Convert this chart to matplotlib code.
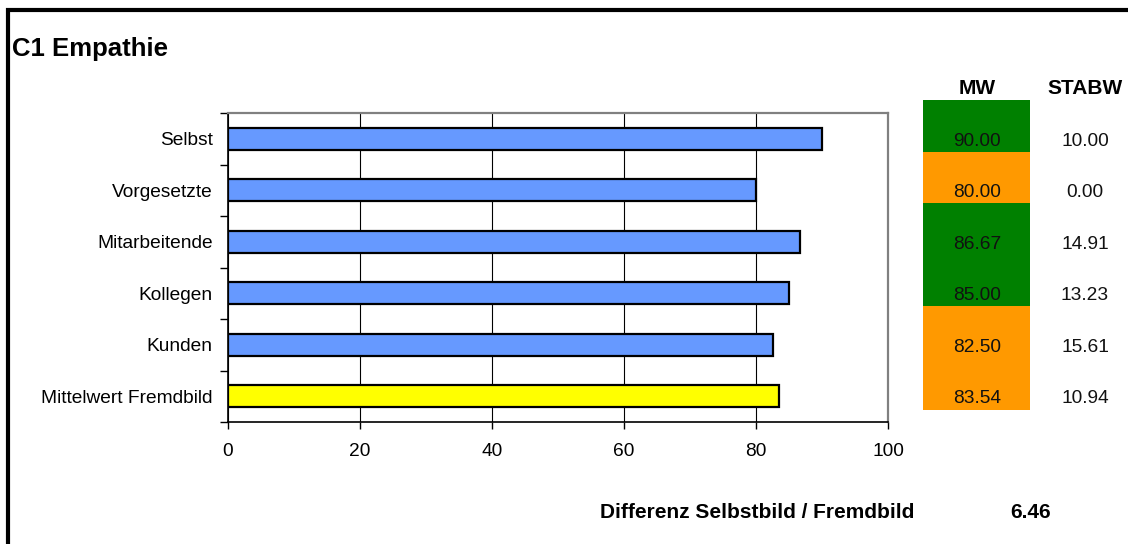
"""C1 Empathie: horizontal bar chart with MW / STABW table"""

import matplotlib

matplotlib.use("Agg")
import matplotlib.pyplot as plt
import numpy as np
from matplotlib.patches import Rectangle

plt.rcParams["font.family"] = ["Liberation Sans", "DejaVu Sans"]

# data
categories = ["Selbst", "Vorgesetzte", "Mitarbeitende", "Kollegen", "Kunden", "Mittelwert Fremdbild"]
mw_values = [90.00, 80.00, 86.67, 85.00, 82.50, 83.54]
stabw_values = [10.00, 0.00, 14.91, 13.23, 15.61, 10.94]
x_ticks = [0, 20, 40, 60, 80, 100]
title = "C1 Empathie"
diff_label = "Differenz Selbstbild / Fremdbild"
diff_value = 6.46
green_threshold = 85.0

BLUE = "#6699FF"
YELLOW = "#FFFF00"
GREEN = "#008000"
ORANGE = "#FF9900"
GRAY = "#808080"

W, H = 1128, 544
LABEL_SIZE = 13.8
BOLD_SIZE = 15.0
fig = plt.figure(figsize=(W / 100, H / 100), dpi=100)


def px_box(left, top, right, bottom):
    """pixel box -> figure fraction rect"""
    return [left / W, 1 - bottom / H, (right - left) / W, (bottom - top) / H]


# main bar axes
ax = fig.add_axes(px_box(228, 113, 888, 422))
y = np.arange(len(categories))
bar_colors = [BLUE] * (len(categories) - 1) + [YELLOW]
ax.barh(y, mw_values, height=0.43, color=bar_colors, edgecolor="black", linewidth=1.6, zorder=3)

ax.set_xlim(0, 100)
ax.set_ylim(len(categories) - 0.5, -0.5)
ax.set_xticks(x_ticks)
ax.set_xticklabels([str(t) for t in x_ticks])
ax.set_yticks(np.arange(len(categories) + 1) - 0.5)
ax.set_yticklabels([])
ax.set_yticks(y, minor=True)
ax.set_yticklabels(categories, minor=True)
ax.tick_params(axis="y", which="major", length=6, width=1, direction="out", color="black")
ax.tick_params(axis="y", which="minor", length=0, pad=11, labelsize=LABEL_SIZE)
ax.tick_params(axis="x", length=5, width=1, direction="out", pad=10, labelsize=LABEL_SIZE)
ax.grid(axis="x", color="black", linewidth=0.8, zorder=1)
ax.set_axisbelow(True)
for side in ("left", "bottom"):
    ax.spines[side].set_color("black")
    ax.spines[side].set_linewidth(1.2)
for side in ("top", "right"):
    ax.spines[side].set_color(GRAY)
    ax.spines[side].set_linewidth(1.6)

# table axes: column 0 = MW, column 1 = STABW
tab = fig.add_axes(px_box(923, 113, 1128, 422))
tab.set_xlim(-0.5, -0.5 + 205 / 108)
tab.set_ylim(len(categories) - 0.5, -0.5)
tab.axis("off")
cell_colors = [GREEN if v >= green_threshold else ORANGE for v in mw_values]
tab.barh(y - 0.24, [0.99] * len(y), left=-0.5, height=1.01, color=cell_colors, clip_on=False)
for yi, mw, sd in zip(y, mw_values, stabw_values):
    tab.text(0, yi + 0.05, f"{mw:.2f}", ha="center", va="center", fontsize=LABEL_SIZE, color="#111111")
    tab.text(1, yi + 0.05, f"{sd:.2f}", ha="center", va="center", fontsize=LABEL_SIZE, color="#111111")
tab.text(0, -0.98, "MW", ha="center", va="center", fontsize=BOLD_SIZE, fontweight="bold")
tab.text(1, -0.98, "STABW", ha="center", va="center", fontsize=BOLD_SIZE, fontweight="bold")

# titles and difference line
fig.text(12 / W, 1 - 49 / H, title, ha="left", va="center", fontsize=18.5, fontweight="bold")
fig.text(600 / W, 1 - 512 / H, diff_label, ha="left", va="center", fontsize=BOLD_SIZE, fontweight="bold")
fig.text(1031 / W, 1 - 512 / H, f"{diff_value:.2f}", ha="center", va="center", fontsize=BOLD_SIZE, fontweight="bold")

# outer frame (only left and top visible)
fig.add_artist(Rectangle((8 / W, -0.2), 1.5, 1.2 - 10 / H, transform=fig.transFigure,
                         fill=False, edgecolor="black", linewidth=3, clip_on=False))

fig.savefig("out.png", dpi=100)
